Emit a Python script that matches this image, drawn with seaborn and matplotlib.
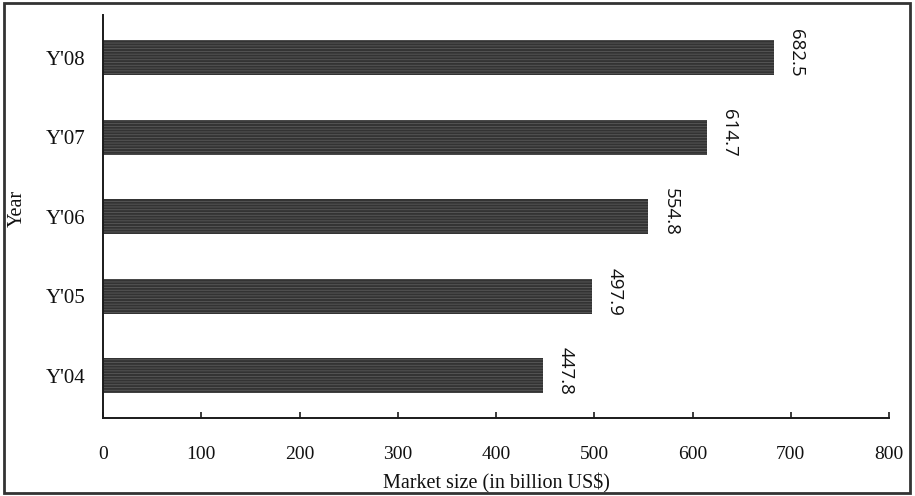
import matplotlib
matplotlib.use("Agg")
import matplotlib.pyplot as plt
from matplotlib.patches import Rectangle
import seaborn as sns
import pandas as pd

# Market size by year (billion US$)
years = ["Y'04", "Y'05", "Y'06", "Y'07", "Y'08"]
market_size = [447.8, 497.9, 554.8, 614.7, 682.5]
x_ticks = [0, 100, 200, 300, 400, 500, 600, 700, 800]

df = pd.DataFrame({"Year": years, "Market size": market_size})

sns.set_theme(style="white")
plt.rcParams["font.family"] = ["Liberation Serif", "DejaVu Serif"]
plt.rcParams["hatch.linewidth"] = 0.6

fig = plt.figure(figsize=(9.15, 4.96), dpi=100)
ax = fig.add_axes([0.1126, 0.1573, 0.8590, 0.8125])

order = years[::-1]
sns.barplot(data=df, x="Market size", y="Year", order=order, orient="h",
            color="#333333", width=0.44, saturation=1, ax=ax)

for bar in ax.patches:
    bar.set_edgecolor("#5a5a5a")
    bar.set_linewidth(0)
    bar.set_hatch("------")

# value labels, rotated to read downward
for i, yr in enumerate(order):
    v = market_size[years.index(yr)]
    ax.annotate(f"{v:.1f}", xy=(v, i), xytext=(16, 3.5),
                textcoords="offset points", rotation=-90,
                ha="center", va="center", fontsize=13.5,
                family=["Open Sans", "DejaVu Sans"], color="#111111")

ax.set_xlim(0, 800)
ax.set_ylim(4.53, -0.54)
ax.set_xticks(x_ticks)
ax.set_xticklabels([str(t) for t in x_ticks])

for side in ("top", "right"):
    ax.spines[side].set_visible(False)
for side in ("left", "bottom"):
    ax.spines[side].set_color("#1a1a1a")
    ax.spines[side].set_linewidth(1.4)

ax.tick_params(axis="x", direction="in", length=4, width=1.2, color="#1a1a1a",
               pad=20, labelsize=14, labelcolor="#111111", bottom=True)
ax.tick_params(axis="y", length=0, pad=13, labelsize=15, labelcolor="#111111")

ax.set_xlabel("Market size (in billion US$)", fontsize=14.5, color="#111111",
              labelpad=8)
ax.set_ylabel("Year", fontsize=14.5, color="#111111")
ax.yaxis.set_label_coords(-0.097, 0.52)

# outer frame around the whole figure
fig.patches.append(Rectangle((0.0045, 0.006), 0.9905, 0.987,
                             transform=fig.transFigure, fill=False,
                             edgecolor="#333333", linewidth=2))

fig.savefig("out.png", dpi=100, facecolor="white")
